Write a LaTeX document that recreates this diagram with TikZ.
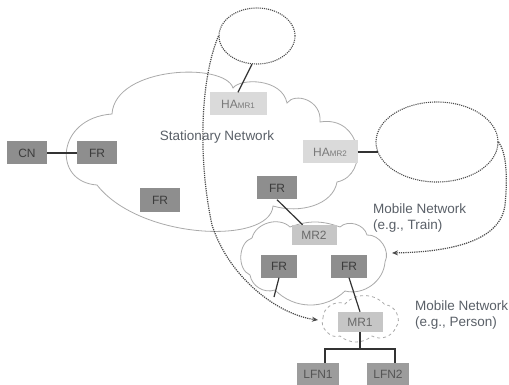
\documentclass[tikz,border=0pt]{standalone}
\usepackage{fontspec}
\setmainfont{Liberation Sans}
\usetikzlibrary{shapes.geometric,arrows.meta,calc}
\definecolor{boxdark}{HTML}{8E8E8E}
\definecolor{txtdark}{HTML}{3C3C3C}
\definecolor{boxlight}{HTML}{DADADA}
\definecolor{txtlight}{HTML}{7A7A7A}
\definecolor{boxmid}{HTML}{C6C6C6}
\definecolor{txtmid}{HTML}{6A6A6A}
\definecolor{boxleaf}{HTML}{9C9C9C}
\definecolor{txtleaf}{HTML}{555555}
\definecolor{cloudcol}{HTML}{AAAAAA}
\definecolor{lblcol}{HTML}{5A6068}
\definecolor{linecol}{HTML}{333333}
\definecolor{dotcol}{HTML}{4A4A4A}
\begin{document}
\begin{tikzpicture}[x=1pt,y=-1pt,
  dbox/.style={fill=boxdark, text=txtdark, minimum width=40pt, minimum height=23pt, inner sep=0pt, font=\fontsize{12}{12}\selectfont},
  hbox/.style={fill=boxlight, text=txtlight, minimum height=23pt, inner sep=0pt, font=\fontsize{12}{12}\selectfont},
  mbox/.style={fill=boxmid, text=txtmid, minimum width=45pt, minimum height=20pt, inner sep=0pt, font=\fontsize{12}{12}\selectfont},
  leafbox/.style={fill=boxleaf, text=txtleaf, minimum width=42pt, minimum height=22pt, inner sep=0pt, font=\fontsize{12}{12}\selectfont},
  link/.style={draw=linecol, line width=1.2pt},
  cloudline/.style={draw=cloudcol, line width=0.8pt},
  dotted ell/.style={ellipse, draw=dotcol, densely dotted, line width=1.1pt, inner sep=0pt},
  dotarrow/.style={draw=dotcol, line width=1.2pt, densely dotted, -{Stealth[length=6pt,width=5pt]}},
  lbl/.style={text=lblcol, font=\fontsize{13.5}{16.5}\selectfont, align=left, inner sep=0pt},
]
\useasboundingbox (0,0) rectangle (509,385);
\fill[white] (0,0) rectangle (509,385);

% Stationary network cloud
\draw[cloudline] (97,185) .. controls (52,182) and (56,118) .. (112,114)
 .. controls (115,66) and (225,62) .. (233,88)
 .. controls (240,78) and (282,78) .. (287,103)
 .. controls (295,92) and (322,100) .. (320,122)
 .. controls (362,115) and (370,175) .. (337,182)
 .. controls (333,205) and (300,214) .. (273,206)
 .. controls (270,245) and (140,240) .. (97,185);

% Mobile network (train) cloud
\draw[cloudline] (252,238) to[bend left=60] (290,227) to[bend left=20] (340,227)
 to[bend left=60] (367,235) to[bend left=60] (385,262) to[bend left=50] (345,291)
 to[bend left=45] (275,290) to[bend left=50] (250,275) to[bend left=70] (252,238);

% Mobile network (person) cloud
\draw[cloudline, dashed] (323,318) to[bend left=60] (345,304) to[bend left=50] (385,305)
 to[bend left=70] (396,327) to[bend left=50] (372,336) to[bend left=40] (340,336)
 to[bend left=70] (323,318);

% ellipses
\node[dotted ell, minimum width=76pt, minimum height=56pt] (E1) at (257,36) {};
\node[dotted ell, minimum width=122pt, minimum height=80pt] (E2) at (437,142) {};

% labels
\node[lbl] (sn) at (217,137) {Stationary Network};
\node[lbl, anchor=west] (mn1) at (373,218) {Mobile Network\\(e.g., Train)};
\node[lbl, anchor=west] (mn2) at (415,315) {Mobile Network\\(e.g., Person)};

% boxes
\node[dbox] (CN) at (27,153) {CN};
\node[dbox] (FR1) at (97,153) {FR};
\node[dbox] (FR2) at (160,200) {FR};
\node[dbox] (FR3) at (277,188) {FR};
\node[hbox, minimum width=57pt] (HA1) at (238,104) {HA{\fontsize{8}{8}\selectfont MR1}};
\node[hbox, minimum width=55pt] (HA2) at (330,152) {HA{\fontsize{8}{8}\selectfont MR2}};
\node[mbox] (MR2) at (314,235) {MR2};
\node[dbox, minimum width=36pt] (FRa) at (279,266) {FR};
\node[dbox, minimum width=36pt] (FRb) at (349,266) {FR};
\node[mbox] (MR1) at (360,322) {MR1};
\node[leafbox] (LFN1) at (318,374) {LFN1};
\node[leafbox] (LFN2) at (388,374) {LFN2};

% free-end coordinates
\coordinate (e2in) at (378,152);
\coordinate (stub) at (274,297);
\coordinate (b1) at (325,349);
\coordinate (b2) at (395,349);
\coordinate (a1) at (318,320);
\coordinate (a2) at (392,253);

% connectors
\draw[link] (CN) -- (FR1);
\draw[link] (E1.260) -- (HA1.north);
\draw[link] (HA2.east) -- (e2in);
\draw[link] (FR3.south) -- ($(MR2.north west)!0.25!(MR2.north east)$);
\draw[link] (FRa.south) -- (stub);
\draw[link] (FRb.south) -- (MR1.north);
\draw[link] (MR1.south) -- (MR1.south |- b1);
\draw[link] (b1 |- LFN1.north) -- (b1) -- (b2) -- (b2 |- LFN2.north);

% dotted arrows
\draw[dotarrow] (E1.west) .. controls (200,80) and (198,160) .. (212,225)
 .. controls (230,280) and (280,315) .. (a1);
\draw[dotarrow] (E2.east) .. controls (506,152) and (508,175) .. (505,205)
 .. controls (500,245) and (440,252) .. (a2);
\end{tikzpicture}
\end{document}
